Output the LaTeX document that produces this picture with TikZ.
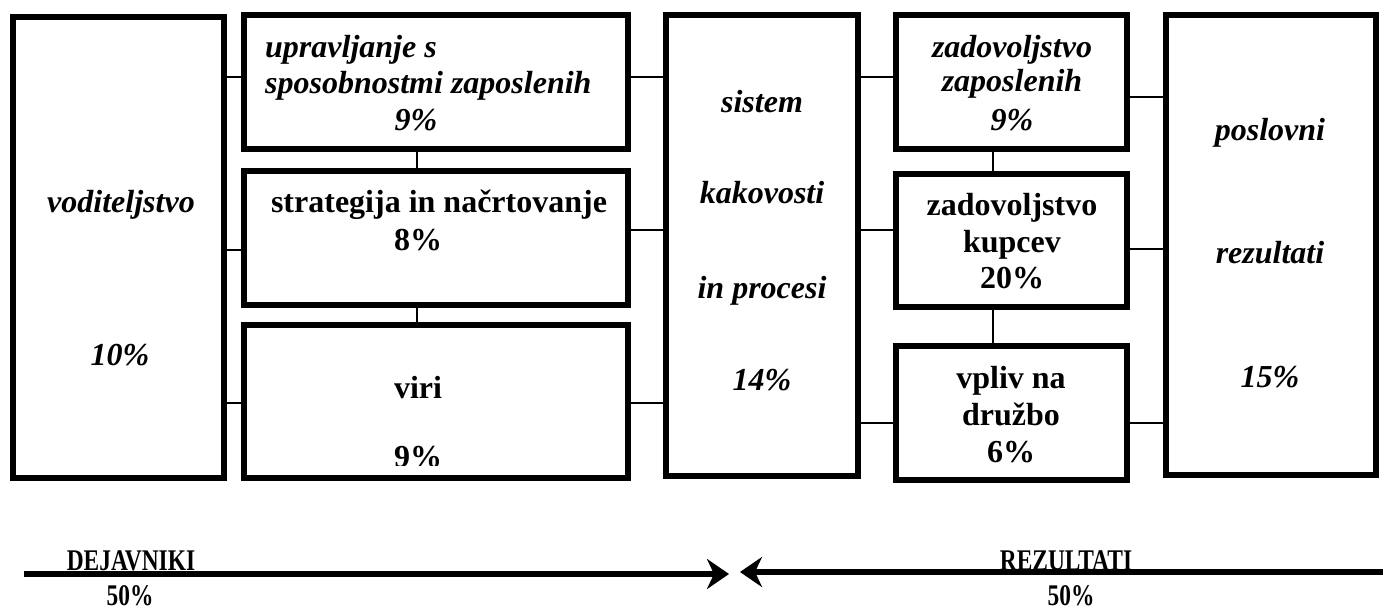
\documentclass[tikz,border=0pt]{standalone}
\usepackage{fontspec}
\setmainfont{Liberation Serif}
\usetikzlibrary{arrows.meta}
\tikzset{
  bx/.style={draw, line width=6pt, rectangle, inner sep=0pt},
  conn/.style={line width=1.3pt},
  lbl/.style={anchor=base, inner sep=0pt, font=\fontsize{32}{36}\selectfont\bfseries\itshape},
  lblb/.style={anchor=base, inner sep=0pt, font=\fontsize{32}{36}\selectfont\bfseries},
  lbll/.style={anchor=base west, inner sep=0pt, font=\fontsize{32}{36}\selectfont\bfseries\itshape},
  foot/.style={anchor=base, inner sep=0pt, font=\fontsize{30}{34}\selectfont\bfseries, xscale=0.78},
  bigarrow/.style={line width=6pt, -{Stealth[length=22pt, width=30pt, inset=7pt]}}
}
\newcommand{\mkbox}[5]{\node[bx, minimum width={#4-#2}, minimum height={#5-#3}] (#1) at ({(#2+#4)/2},{(#3+#5)/2}) {};}
\begin{document}
\begin{tikzpicture}[x=1pt, y=-1pt]
\useasboundingbox (0,0) rectangle (1383,610);
% boxes (centerline coordinates)
\node[bx, minimum width=211pt, minimum height=461pt] (b1) at (118.5,247.5) {};
\node[bx, minimum width=384pt, minimum height=134pt] (b2) at (436,82) {};
\node[bx, minimum width=384pt, minimum height=134pt] (b3) at (436,238) {};
\node[bx, minimum width=384pt, minimum height=153pt] (b4) at (436,401.5) {};
\node[bx, minimum width=192pt, minimum height=461pt] (b5) at (762,245.5) {};
\node[bx, minimum width=231pt, minimum height=134pt] (b6) at (1011.5,82) {};
\node[bx, minimum width=231pt, minimum height=133pt] (b7) at (1011.5,240.5) {};
\node[bx, minimum width=231pt, minimum height=134pt] (b8) at (1011.5,413) {};
\node[bx, minimum width=210pt, minimum height=460pt] (b9) at (1271,245) {};
% connectors
\draw[conn] (b1.east |- 0,77) -- (b2.west |- 0,77);
\draw[conn] (b1.east |- 0,250) -- (b3.west |- 0,250);
\draw[conn] (b1.east |- 0,403) -- (b4.west |- 0,403);
\draw[conn] (b2.south -| 417,0) -- (b3.north -| 417,0);
\draw[conn] (b3.south -| 417,0) -- (b4.north -| 417,0);
\draw[conn] (b2.east |- 0,77) -- (b5.west |- 0,77);
\draw[conn] (b3.east |- 0,230) -- (b5.west |- 0,230);
\draw[conn] (b4.east |- 0,403) -- (b5.west |- 0,403);
\draw[conn] (b5.east |- 0,77) -- (b6.west |- 0,77);
\draw[conn] (b5.east |- 0,230) -- (b7.west |- 0,230);
\draw[conn] (b5.east |- 0,423) -- (b8.west |- 0,423);
\draw[conn] (b6.east |- 0,97) -- (b9.west |- 0,97);
\draw[conn] (b7.east |- 0,249) -- (b9.west |- 0,249);
\draw[conn] (b8.east |- 0,423) -- (b9.west |- 0,423);
\draw[conn] (b6.south -| 993,0) -- (b7.north -| 993,0);
\draw[conn] (b7.south -| 993,0) -- (b8.north -| 993,0);
% texts
\node[lbl] (t1a) at (121,212) {voditeljstvo};
\node[lbl] (t1b) at (120,365) {10\%};
\node[lbll] (t2a) at (265,57) {upravljanje s};
\node[lbll] (t2b) at (265,93) {sposobnostmi zaposlenih};
\node[lbl] (t2c) at (416,130) {9\%};
\node[lblb] (t3a) at (439,212) {strategija in načrtovanje};
\node[lblb] (t3b) at (418,250) {8\%};
\node[lblb] (t4a) at (418,398) {viri};
\begin{scope}
\clip (244,300) rectangle (628,465);
\node[lblb] (t4b) at (418,467) {9\%};
\end{scope}
\node[lbl] (t5a) at (762,112) {sistem};
\node[lbl] (t5b) at (762,203) {kakovosti};
\node[lbl] (t5c) at (762,298) {in procesi};
\node[lbl] (t5d) at (762,390) {14\%};
\node[lbl] (t6a) at (1012,57) {zadovoljstvo};
\node[lbl] (t6b) at (1012,92) {zaposlenih};
\node[lbl] (t6c) at (1012,130) {9\%};
\node[lblb] (t7a) at (1012,215) {zadovoljstvo};
\node[lblb] (t7b) at (1012,252) {kupcev};
\node[lblb] (t7c) at (1012,288) {20\%};
\node[lblb] (t8a) at (1011,388) {vpliv na};
\node[lblb] (t8b) at (1011,425) {družbo};
\node[lblb] (t8c) at (1011,462) {6\%};
\node[lbl] (t9a) at (1270,140) {poslovni};
\node[lbl] (t9b) at (1270,263) {rezultati};
\node[lbl] (t9c) at (1270,387) {15\%};
% bottom arrows
\coordinate (la) at (24,574);
\coordinate (lb) at (729,574);
\coordinate (ra) at (1390,572);
\coordinate (rb) at (740,572);
\draw[bigarrow] (la) -- (lb);
\draw[bigarrow] (ra) -- (rb);
\node[foot] (d1) at (131,570) {DEJAVNIKI};
\node[foot] (d2) at (130,605) {50\%};
\node[foot] (r1) at (1066,570) {REZULTATI};
\node[foot] (r2) at (1071,605) {50\%};
\end{tikzpicture}
\end{document}
